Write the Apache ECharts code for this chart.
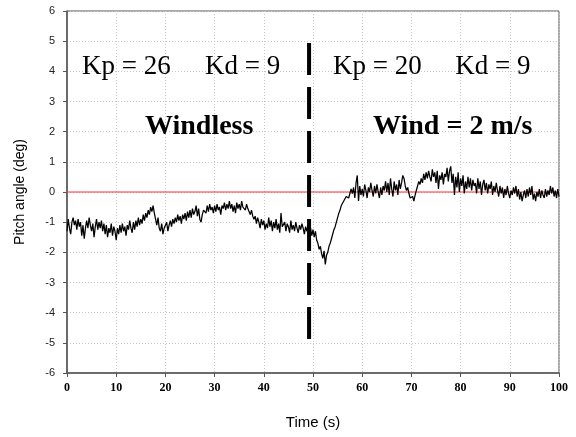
<!DOCTYPE html>
<html><head><meta charset="utf-8">
<script src="https://cdn.jsdelivr.net/npm/echarts@6/dist/echarts.min.js"></script>
<style>html,body{margin:0;padding:0;background:#fff}#c{width:576px;height:437px}</style>
</head><body><div id="c"></div>
<script>
// ---- data ----
const timeStart = 0;
const timeStep = 0.25; // s between samples
const pitch = [
-1.3,-0.9,-1.2,-1.4,
-1.0,-0.85,-1.1,-0.95,
-1.25,-0.9,-1.15,-1.0,
-1.45,-1.1,-1.55,-1.2,
-0.95,-1.2,-0.85,-1.1,
-1.3,-1.05,-1.5,-1.15,
-0.9,-1.25,-1.0,-1.2,
-0.95,-1.3,-1.05,-1.4,
-1.1,-1.5,-1.2,-1.35,
-1.05,-1.45,-1.15,-1.3,
-1.6,-1.2,-1.4,-1.1,
-1.35,-1.05,-1.3,-1.15,
-1.45,-1.1,-1.25,-0.95,
-1.2,-1.35,-1.0,-1.25,
-0.95,-1.15,-0.85,-1.1,
-0.9,-1.05,-0.75,-0.95,
-0.7,-0.85,-0.6,-0.75,
-0.5,-0.65,-0.45,-0.7,
-0.9,-1.1,-0.85,-1.2,
-1.3,-1.05,-1.4,-1.2,
-1.25,-1.0,-1.3,-1.1,
-0.95,-1.15,-0.9,-1.05,
-0.85,-1.0,-0.75,-0.95,
-0.8,-1.05,-0.75,-0.9,
-0.7,-0.95,-0.65,-0.85,
-0.6,-0.85,-0.55,-0.75,
-0.65,-0.45,-0.8,-0.55,
-0.9,-1.0,-0.75,-0.6,
-0.55,-0.7,-0.45,-0.65,
-0.4,-0.6,-0.5,-0.7,
-0.45,-0.65,-0.4,-0.6,
-0.5,-0.75,-0.45,-0.55,
-0.35,-0.6,-0.4,-0.55,
-0.3,-0.55,-0.4,-0.65,
-0.45,-0.7,-0.35,-0.55,
-0.4,-0.6,-0.3,-0.5,
-0.45,-0.6,-0.4,-0.55,
-0.5,-0.75,-0.6,-0.8,
-0.9,-0.8,-1.05,-0.85,
-1.0,-1.2,-0.9,-1.1,
-0.95,-1.25,-1.05,-1.2,
-0.85,-1.15,-0.95,-1.3,
-1.0,-1.2,-0.9,-1.25,
-1.05,-1.35,-0.7,-1.15,
-1.2,-1.0,-1.3,-1.05,
-1.15,-1.35,-0.95,-1.25,
-1.1,-1.3,-1.0,-1.2,
-1.35,-1.1,-1.25,-1.05,
-1.2,-1.4,-1.15,-1.3,
-1.1,-1.35,-1.2,-1.45,
-1.25,-1.5,-1.3,-1.6,
-1.7,-1.9,-1.8,-2.05,
-2.2,-1.95,-2.4,-2.1,
-2.0,-1.8,-1.7,-1.55,
-1.4,-1.25,-1.15,-1.0,
-0.85,-0.7,-0.6,-0.45,
-0.4,-0.3,-0.35,-0.15,
-0.1,-0.2,-0.05,0.1,
-0.05,0.15,-0.2,0.3,
0.55,-0.3,0.2,-0.1,
0.1,-0.15,0.25,0.05,
-0.2,0.15,0.0,0.3,
0.05,-0.15,0.2,-0.05,
0.25,0.0,-0.2,0.15,
-0.1,0.2,0.05,0.35,
0.0,0.3,-0.1,0.45,
0.1,-0.15,0.35,0.05,
0.25,-0.1,0.4,0.1,
0.3,0.55,0.45,0.2,
0.05,0.15,-0.05,-0.2,
-0.25,-0.15,-0.3,-0.1,
0.05,0.2,0.35,0.25,
0.45,0.3,0.6,0.4,
0.65,0.45,0.7,0.5,
0.35,0.75,0.5,0.65,
0.3,0.7,0.1,0.55,
0.4,0.65,0.25,0.6,
0.5,0.8,0.35,0.7,
0.85,0.3,0.6,-0.1,
0.5,0.15,0.65,0.0,
0.45,0.2,0.55,-0.05,
0.35,0.1,0.5,0.15,
0.45,0.05,0.4,0.2,
0.3,-0.05,0.45,0.1,
0.35,-0.1,0.25,0.4,
0.05,0.3,-0.05,0.25,
0.1,0.35,-0.1,0.2,
0.0,0.3,0.05,-0.15,
0.2,-0.05,0.15,-0.2,
0.1,-0.1,0.2,-0.05,
-0.2,0.05,-0.1,0.15,
-0.05,0.2,-0.15,0.1,
-0.25,0.0,-0.3,-0.1,
0.05,-0.2,0.1,-0.15,
0.15,-0.1,0.2,-0.25,
-0.05,-0.3,0.0,-0.15,
0.1,-0.2,0.05,-0.1,
-0.2,0.1,-0.15,0.05,
-0.1,0.2,-0.05,0.15,
-0.15,0.05,-0.2,0.1,
-0.15
];
const refLevel = 0;                 // red reference line
const switchTime = 49.2;            // dashed divider
const switchSpan = [4.94, -4.87];   // top, bottom of divider
const xMin = 0, xMax = 100, xStep = 10;
const yMin = -6, yMax = 6, yStep = 1;
const xTitle = 'Time (s)';
const yTitle = 'Pitch angle (deg)';
const noteTexts = ['Kp = 26', 'Kd = 9', 'Kp = 20', 'Kd = 9', 'Windless', 'Wind = 2 m/s'];
const noteX = [3.05, 28.05, 54.07, 78.9, 15.85, 62.2];
const noteY = [4.14, 4.14, 4.14, 4.14, 2.16, 2.16];
const noteBold = [false, false, false, false, true, true];

// ---- chart ----
const series = pitch.map((v, i) => [timeStart + i * timeStep, v]);
const chart = echarts.init(document.getElementById('c'), null, {renderer: 'canvas'});
const serif = '"Times New Roman","Liberation Serif",serif';
const sans = 'Arial,"Liberation Sans",sans-serif';
chart.setOption({
  animation: false,
  backgroundColor: '#fff',
  grid: {left: 67, right: 17, top: 11, bottom: 64, show: true, borderColor: '#555', borderWidth: 1},
  xAxis: {
    type: 'value', min: xMin, max: xMax, interval: xStep,
    name: xTitle, nameLocation: 'middle', nameGap: 42,
    nameTextStyle: {fontFamily: sans, fontSize: 15, color: '#000'},
    axisLine: {show: true, onZero: false, lineStyle: {color: '#555', width: 1.5}},
    axisTick: {show: true, inside: false, length: 4, lineStyle: {color: '#555'}},
    axisLabel: {margin: 9, fontFamily: serif, fontWeight: 'bold', fontSize: 12, color: '#000'},
    splitLine: {show: true, lineStyle: {type: [1, 2], color: '#c8c8c8', width: 1}}
  },
  yAxis: {
    type: 'value', min: yMin, max: yMax, interval: yStep,
    name: yTitle, nameLocation: 'middle', nameGap: 40, nameRotate: 90,
    nameTextStyle: {fontFamily: sans, fontSize: 14, color: '#000'},
    axisLine: {show: true, onZero: false, lineStyle: {color: '#555', width: 1.5}},
    axisTick: {show: true, inside: false, length: 4, lineStyle: {color: '#555'}},
    axisLabel: {margin: 12, fontFamily: sans, fontSize: 11, color: '#222'},
    splitLine: {show: true, lineStyle: {type: [1, 2], color: '#c8c8c8', width: 1}}
  },
  series: [
    {
      type: 'line', data: [[xMin, refLevel], [xMax, refLevel]], symbol: 'none',
      lineStyle: {color: '#ff3030', width: 1}, z: 2, silent: true
    },
    {
      type: 'line', data: series, symbol: 'none',
      lineStyle: {color: '#000', width: 1.25}, z: 3, silent: true
    },
    {
      type: 'line', data: [[switchTime, switchSpan[0]], [switchTime, switchSpan[1]]], symbol: 'none',
      lineStyle: {color: '#000', width: 4, type: [32, 12], cap: 'butt'}, z: 4, silent: true
    }
  ]
});
const graphics = noteTexts.map((t, i) => {
  const p = chart.convertToPixel({gridIndex: 0}, [noteX[i], noteY[i]]);
  return {
    type: 'text', x: p[0], y: p[1], z: 10,
    style: {
      text: t, fill: '#000',
      font: (noteBold[i] ? 'bold ' : '') + (noteBold[i] ? '28px ' : '27px ') + serif,
      textAlign: 'left', textVerticalAlign: 'middle'
    }
  };
});
chart.setOption({graphic: graphics});
</script>
</body></html>
